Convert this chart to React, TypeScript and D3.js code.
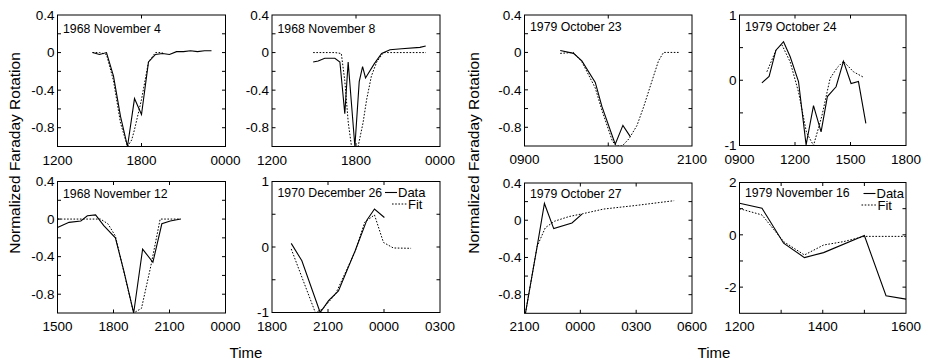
import React, { useEffect, useRef } from "react";
import * as d3 from "d3";

// x values are hours counted from midnight of the first day, y is normalized rotation
const nov4Data = [[14.5, 0], [15, -0.02], [15.5, 0], [16, -0.25], [16.5, -0.68], [17, -1.0], [17.5, -0.49], [18, -0.66], [18.5, -0.1], [19, -0.02], [19.5, -0.01], [20, -0.02], [20.5, 0.01], [21, 0.01], [21.5, 0.02], [22, 0.01], [22.5, 0.02], [23, 0.02]];
const nov4Fit = [[14.5, 0], [15, 0], [15.5, -0.02], [16, -0.3], [16.5, -0.75], [17, -1.0], [17.3, -0.93], [17.5, -0.82], [18, -0.5], [18.5, -0.1], [19, 0], [19.5, 0]];

const nov8Data = [[14.94, -0.1], [15.3, -0.09], [15.77, -0.06], [16.49, -0.06], [16.85, -0.1], [17.2, -0.65], [17.44, -0.1], [17.92, -1.0], [18.23, -0.31], [18.47, -0.15], [18.68, -0.27], [19.3, -0.12], [19.83, -0.01], [20.43, 0.03], [21.26, 0.04], [22.57, 0.055], [22.98, 0.07]];
const nov8Fit = [[14.94, 0], [16.5, 0], [16.95, -0.01], [17.2, -0.3], [17.45, -0.75], [17.68, -1.0], [18.15, -1.0], [18.5, -0.75], [18.76, -0.5], [19.1, -0.25], [19.48, -0.1], [19.96, 0], [23, 0]];

const nov12Data = [[15, -0.09], [15.62, -0.035], [16.25, -0.02], [16.6, 0.035], [17.04, 0.045], [17.48, -0.07], [18.1, -0.2], [18.55, -0.55], [19.08, -1.0], [19.56, -0.32], [20.11, -0.46], [20.59, -0.05], [21.04, -0.02], [21.6, 0]];
const nov12Fit = [[15, 0], [17.3, 0], [17.7, -0.05], [18.1, -0.18], [18.6, -0.6], [19.08, -1.0], [19.5, -0.95], [20, -0.5], [20.5, 0], [21.6, 0]];

const dec26Data = [[19.03, 0.055], [19.6, -0.21], [20.58, -1.0], [21.03, -0.82], [21.56, -0.67], [22.45, -0.06], [23.08, 0.41], [23.49, 0.58], [24.02, 0.45]];
const dec26Fit = [[19.03, -0.03], [19.6, -0.46], [20.32, -1.0], [20.7, -0.95], [21.4, -0.72], [22.45, -0.07], [22.97, 0.38], [23.49, 0.49], [23.97, 0.07], [24.5, -0.015], [25.45, -0.02]];

const oct23Data = [[11.56, 0.02], [12.51, -0.01], [13.11, -0.09], [14.07, -0.32], [14.55, -0.58], [15.5, -0.98], [16.05, -0.78], [16.58, -0.9]];
const oct23Fit = [[11.56, -0.01], [12.51, 0], [13.11, -0.1], [14.07, -0.38], [14.55, -0.62], [15.3, -0.95], [15.6, -1.0], [16, -1.0], [16.5, -0.92], [17.06, -0.78], [17.54, -0.58], [18.1, -0.32], [18.6, -0.09], [18.96, 0], [20.04, 0]];

const oct24Data = [[10.21, -0.04], [10.6, 0.06], [10.97, 0.46], [11.38, 0.59], [11.74, 0.36], [12.19, -0.02], [12.6, -0.99], [13.0, -0.39], [13.41, -0.79], [13.75, -0.25], [14.22, -0.1], [14.62, 0.29], [15.03, -0.05], [15.43, -0.02], [15.83, -0.66]];
const oct24Fit = [[10.48, 0.13], [10.97, 0.46], [11.28, 0.55], [11.74, 0.28], [12.19, -0.18], [12.62, -0.8], [13.0, -1.0], [13.45, -0.55], [13.9, 0.03], [14.3, 0.2], [14.62, 0.29], [15.16, 0.13], [15.74, 0.04]];

const oct27Data = [[21.05, -1.0], [21.68, -0.28], [22.07, 0.18], [22.57, -0.09], [23.55, -0.03], [24.09, 0.065]];
const oct27Fit = [[21.05, -1.0], [21.68, -0.28], [22.12, -0.08], [22.62, -0.01], [23.4, 0.04], [24.13, 0.07], [25.25, 0.12], [27.04, 0.16], [29.04, 0.21]];

const nov16Data = [[12, 1.21], [12.54, 1.02], [13.06, -0.32], [13.56, -0.87], [14.02, -0.68], [15, -0.03], [15.52, -2.33], [16, -2.46]];
const nov16Fit = [[12, 1.0], [12.54, 0.76], [13.06, -0.26], [13.56, -0.77], [14.02, -0.39], [14.5, -0.26], [15, -0.06], [16, -0.06]];

const titles = ["1968 November 4", "1968 November 8", "1968 November 12", "1970 December 26", "1979 October 23", "1979 October 24", "1979 October 27", "1979 November 16"];
const legendLabels = ["Data", "Fit"];

const smallTicks = [-0.8, -0.6, -0.4, -0.2, 0, 0.2];
const smallLabels = [-0.8, -0.4, 0, 0.4];
const unitTicks = [-0.5, 0, 0.5];
const unitLabels = [-1, 0, 1];

const fmtTime = (h: number) => String(h % 24).padStart(2, "0") + "00";

const panels = [
  { title: titles[0], data: nov4Data, fit: nov4Fit, xd: [12, 24], xt: [12, 18, 24], yd: [-1, 0.4], yt: smallTicks, yl: smallLabels, box: [57.5, 15, 168, 131.5], ty: 18 },
  { title: titles[1], data: nov8Data, fit: nov8Fit, xd: [12, 24], xt: [12, 18, 24], yd: [-1, 0.4], yt: smallTicks, yl: smallLabels, box: [272, 15, 168, 131.5], ty: 18 },
  { title: titles[2], data: nov12Data, fit: nov12Fit, xd: [15, 24], xt: [15, 18, 21, 24], yd: [-1, 0.4], yt: smallTicks, yl: smallLabels, box: [57.5, 181.5, 168, 131.5], ty: 16 },
  { title: titles[3], data: dec26Data, fit: dec26Fit, xd: [18, 27], xt: [18, 21, 24, 27], yd: [-1, 1], yt: unitTicks, yl: unitLabels, box: [272, 181.5, 168, 131], ty: 15, legend: [113, 11, 10] },
  { title: titles[4], data: oct23Data, fit: oct23Fit, xd: [9, 21], xt: [9, 15, 21], yd: [-1, 0.4], yt: smallTicks, yl: smallLabels, box: [524.5, 15, 167.5, 131], ty: 15.5 },
  { title: titles[5], data: oct24Data, fit: oct24Fit, xd: [9, 18], xt: [9, 12, 15, 18], yd: [-1, 1], yt: unitTicks, yl: unitLabels, box: [739.5, 15, 166.5, 130.5], ty: 15.5 },
  { title: titles[6], data: oct27Data, fit: oct27Fit, xd: [21, 30], xt: [21, 24, 27, 30], yd: [-1, 0.4], yt: smallTicks, yl: smallLabels, box: [524.5, 183, 167.5, 130.3], ty: 14.5 },
  { title: titles[7], data: nov16Data, fit: nov16Fit, xd: [12, 16], xt: [12, 13, 14, 15, 16], xl: [12, 14, 16], yd: [-3, 2], yt: [-2, -1, 0, 1], yl: [-2, 0, 2], box: [739.5, 182.5, 166.5, 130.8], ty: 14.5, legend: [124, 11, 1] },
];

const FONT = "Liberation Sans, Arial, Helvetica, sans-serif";

export default function App() {
  const svgRef = useRef<SVGSVGElement>(null);

  useEffect(() => {
    const svg = d3.select(svgRef.current);
    svg.selectAll("*").remove();
    svg.attr("font-family", FONT);

    panels.forEach((p: any, i) => {
      const [left, top, w, h] = p.box;
      const x = d3.scaleLinear().domain(p.xd).range([0, w]);
      const y = d3.scaleLinear().domain(p.yd).range([h, 0]);
      const g = svg.append("g").attr("transform", `translate(${left},${top})`);

      g.append("clipPath").attr("id", `clip${i}`).append("rect").attr("width", w).attr("height", h);

      // inner ticks on all four sides
      const tl = 3.5;
      (p.xt as number[]).forEach((t) => {
        if (t === p.xd[0] || t === p.xd[1]) return;
        g.append("line").attr("x1", x(t)).attr("x2", x(t)).attr("y1", h).attr("y2", h - tl).attr("stroke", "#000");
        g.append("line").attr("x1", x(t)).attr("x2", x(t)).attr("y1", 0).attr("y2", tl).attr("stroke", "#000");
      });
      (p.yt as number[]).forEach((t) => {
        g.append("line").attr("x1", 0).attr("x2", tl).attr("y1", y(t)).attr("y2", y(t)).attr("stroke", "#000");
        g.append("line").attr("x1", w).attr("x2", w - tl).attr("y1", y(t)).attr("y2", y(t)).attr("stroke", "#000");
      });

      const xl = (p.xl || p.xt) as number[];
      g.selectAll(".xl").data(xl).join("text")
        .attr("x", (d) => x(d)).attr("y", h + 18)
        .attr("text-anchor", "middle").attr("font-size", 13.5)
        .text((d) => fmtTime(d));
      g.selectAll(".yl").data(p.yl as number[]).join("text")
        .attr("x", -3).attr("y", (d) => y(d)).attr("dy", "0.35em")
        .attr("text-anchor", "end").attr("font-size", 13.5)
        .text((d) => String(d));

      const line = d3.line<number[]>().x((d) => x(d[0])).y((d) => y(d[1]));
      const lines = g.append("g").attr("clip-path", `url(#clip${i})`);
      lines.append("path").datum(p.fit).attr("d", line).attr("fill", "none")
        .attr("stroke", "#000").attr("stroke-width", 1).attr("stroke-dasharray", "1.6,1.6");
      lines.append("path").datum(p.data).attr("d", line).attr("fill", "none")
        .attr("stroke", "#000").attr("stroke-width", 1.1);

      g.append("rect").attr("width", w).attr("height", h).attr("fill", "none").attr("stroke", "#000").attr("stroke-width", 1);

      g.append("text").attr("x", 5.5).attr("y", p.ty).attr("font-size", 12.3).text(p.title);

      if (p.legend) {
        const [lx, ly, shift] = p.legend;
        g.append("line").attr("x1", lx).attr("x2", lx + 12).attr("y1", ly).attr("y2", ly).attr("stroke", "#000").attr("stroke-width", 1.1);
        g.append("text").attr("x", lx + 13).attr("y", ly + 4.5).attr("font-size", 13).text(legendLabels[0]);
        g.append("line").attr("x1", lx + shift - 3).attr("x2", lx + shift + 12).attr("y1", ly + 11.5).attr("y2", ly + 11.5).attr("stroke", "#000").attr("stroke-dasharray", "1.6,1.6");
        g.append("text").attr("x", lx + shift + 13).attr("y", ly + 16).attr("font-size", 13).text(legendLabels[1]);
      }
    });

    [19.5, 478.5].forEach((xp) => {
      svg.append("text").attr("transform", `translate(${xp},153) rotate(-90)`)
        .attr("text-anchor", "middle").attr("font-size", 15.5).text("Normalized Faraday Rotation");
    });
    [246, 714].forEach((xp) => {
      svg.append("text").attr("x", xp).attr("y", 357.5).attr("text-anchor", "middle").attr("font-size", 15).text("Time");
    });
  }, []);

  return (
    <svg ref={svgRef} width={930} height={362} style={{ position: "absolute", left: 0, top: 0, background: "#fff" }} />
  );
}
